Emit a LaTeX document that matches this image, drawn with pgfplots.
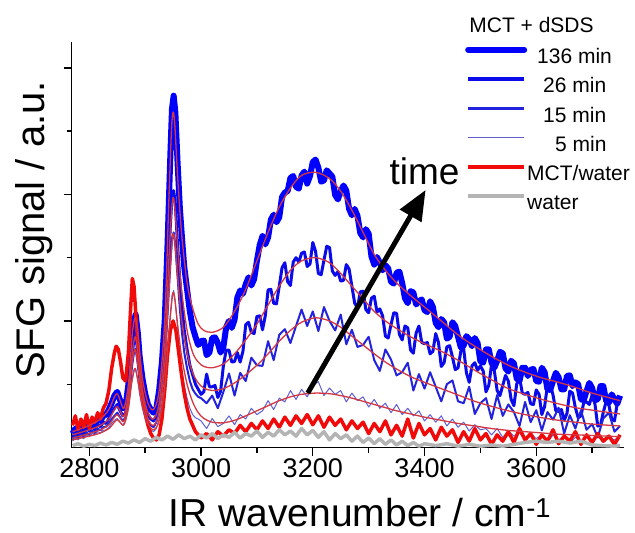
\documentclass[border=0pt]{standalone}
\usepackage{fontspec}
\setmainfont{Liberation Sans}
\usepackage{pgfplots}
\pgfplotsset{compat=1.18}
\usetikzlibrary{arrows.meta}
\definecolor{cA}{RGB}{0,0,255}
\definecolor{cB}{RGB}{10,10,235}
\definecolor{cC}{RGB}{35,35,222}
\definecolor{cD}{RGB}{95,95,210}
\definecolor{fitred}{RGB}{212,55,65}
\definecolor{mred}{RGB}{240,10,10}
\definecolor{wgray}{RGB}{180,180,180}
\begin{document}
\begin{tikzpicture}
\path[use as bounding box] (-71.7pt,-85.5pt) rectangle (563.3pt,447.5pt);
\begin{axis}[
  scale only axis, width=552pt, height=405pt,
  xmin=2768.5, xmax=3756.5, ymin=0, ymax=6.4,
  axis lines=left, axis line style={-, line width=1.6pt},
  clip=false,
  xtick={2800,3000,3200,3400,3600}, xticklabels={2800,3000,3200,3400,3600},
  minor xtick={2900,3100,3300,3500,3700},
  ytick={2,4,6}, minor ytick={1,3,5}, yticklabels={},
  tick align=outside, major tick length=8pt, minor tick length=5pt,
  every tick/.style={black, line width=1.4pt},
  xticklabel style={font=\fontsize{27}{30}\selectfont},
  xlabel={IR wavenumber / cm\textsuperscript{-1}},
  xlabel style={font=\fontsize{39}{42}\selectfont, at={(rel axis cs:0.522,-0.194)}, anchor=base},
  ylabel={SFG signal / a.u.},
  ylabel style={font=\fontsize{40}{44}\selectfont, at={(rel axis cs:-0.0484,0.537)}, anchor=base},
  legend image code/.code={\draw[#1] (0pt,7.5pt) -- (56pt,7.5pt);},
  legend style={at={(rel axis cs:0.7125,1.0)}, anchor=north west, draw=none, fill=none,
    font=\fontsize{21}{24}\selectfont, row sep=0pt, column sep=0pt, inner sep=0pt,
    nodes={inner sep=0pt, text height=21pt, text depth=8.2pt}},
  legend cell align=left,
  line join=round,
]
\addlegendimage{cA, line width=6pt, line cap=round}\addlegendentry{\hspace{10pt}136 min}
\addlegendimage{cB, line width=4pt}\addlegendentry{\hspace{16pt}26 min}
\addlegendimage{cC, line width=3pt}\addlegendentry{\hspace{16pt}15 min}
\addlegendimage{cD, line width=1.5pt}\addlegendentry{\hspace{28pt}5 min}
\addlegendimage{mred, line width=4pt}\addlegendentry{MCT/water}
\addlegendimage{wgray, line width=4.5pt}\addlegendentry{water}

% 136 min data
\addplot[cA, line width=6pt, forget plot] coordinates {
(2770,0.22)(2775,0.3)(2780,0.2)(2785,0.32)(2790,0.28)(2795,0.38)(2800,0.3)(2805,0.42)(2810,0.36)(2815,0.45)(2820,0.42)(2825,0.5)(2830,0.52)(2835,0.6)(2840,0.7)(2845,0.82)(2850,0.88)(2855,0.75)(2860,0.62)(2865,0.65)(2870,1.0)(2875,1.6)(2880,2.0)(2883,2.1)(2887,1.8)(2890,1.45)(2895,1.1)(2900,0.85)(2905,0.68)(2910,0.6)(2915,0.55)(2920,0.62)(2925,0.9)(2930,1.35)(2935,2.0)(2940,3.2)(2945,4.6)(2948,5.35)(2951,5.56)(2954,5.3)(2958,4.5)(2962,3.8)(2966,3.3)(2970,2.85)(2975,2.5)(2980,2.15)(2985,1.9)(2990,1.75)(2995,1.62)
(3000,1.68)(3005,1.69)(3010,1.46)(3015,1.5)(3020,1.73)(3025,1.74)(3030,1.65)(3035,1.5)(3040,1.59)(3045,1.9)(3050,2.0)(3055,1.89)(3060,2.02)(3065,2.37)(3070,2.48)(3075,2.43)(3080,2.58)(3085,2.69)(3090,2.56)(3095,2.66)(3100,2.95)(3105,3.2)(3110,3.34)(3115,3.21)(3120,3.32)(3125,3.6)(3130,3.68)(3135,3.56)(3140,3.64)(3145,3.96)(3150,4.03)(3155,4.05)(3160,4.26)(3165,4.29)(3170,4.12)(3175,4.09)(3180,4.3)(3185,4.36)(3190,4.17)(3195,4.29)(3200,4.51)(3205,4.55)(3210,4.42)(3215,4.2)(3220,4.22)(3225,4.38)(3230,4.33)(3235,4.28)(3240,3.99)(3245,3.92)(3250,4.05)(3255,4.14)(3260,4.06)(3265,3.77)(3270,3.67)(3275,3.77)(3280,3.66)(3285,3.39)(3290,3.32)(3295,3.45)(3300,3.38)(3305,3.02)(3310,2.89)(3315,3.01)(3320,2.92)(3325,2.8)(3330,2.88)(3335,2.83)(3340,2.62)(3345,2.59)(3350,2.76)(3355,2.78)(3360,2.6)(3365,2.36)(3370,2.28)(3375,2.47)(3380,2.45)(3385,2.26)(3390,2.31)(3395,2.34)(3400,2.17)(3405,2.14)(3410,2.31)(3415,2.22)(3420,1.97)(3425,1.9)(3430,2.03)(3435,1.98)(3440,1.72)(3445,1.75)(3450,1.98)(3455,1.92)(3460,1.75)(3465,1.58)(3470,1.61)(3475,1.76)(3480,1.71)(3485,1.6)(3490,1.73)(3495,1.65)(3500,1.36)(3505,1.34)(3510,1.55)(3515,1.55)(3520,1.34)(3525,1.26)(3530,1.37)(3535,1.51)(3540,1.49)(3545,1.25)(3550,1.2)(3555,1.37)(3560,1.33)(3565,1.09)(3570,1.05)(3575,1.26)(3580,1.26)(3585,1.13)(3590,1.23)(3595,1.24)(3600,1.05)(3605,1.04)(3610,1.26)(3615,1.19)(3620,0.92)(3625,0.91)(3630,1.05)(3635,1.18)(3640,1.11)(3645,0.92)(3650,0.92)(3655,1.13)(3660,1.14)(3665,0.97)(3670,1.03)(3675,1.0)(3680,0.76)(3685,0.75)(3690,0.89)(3695,1.02)(3700,0.94)(3705,0.75)(3710,0.76)(3715,0.97)(3720,0.97)(3725,0.74)(3730,0.71)(3735,0.84)(3740,0.76)(3745,0.69)(3750,0.82)};

% 26 min data
\addplot[cB, line width=3pt, forget plot] coordinates {
(2770,0.15)(2775,0.25)(2780,0.18)(2785,0.28)(2790,0.2)(2795,0.3)(2800,0.26)(2805,0.34)(2810,0.28)(2815,0.36)(2820,0.33)(2825,0.4)(2830,0.38)(2835,0.46)(2840,0.55)(2845,0.62)(2850,0.68)(2855,0.58)(2860,0.5)(2865,0.55)(2870,0.85)(2875,1.35)(2880,1.72)(2883,1.78)(2887,1.5)(2890,1.2)(2895,0.9)(2900,0.65)(2905,0.52)(2910,0.45)(2915,0.42)(2920,0.5)(2925,0.7)(2930,1.05)(2935,1.6)(2940,2.5)(2945,3.5)(2948,3.95)(2951,4.06)(2954,3.85)(2958,3.2)(2962,2.65)(2966,2.2)(2970,1.85)(2975,1.55)(2980,1.3)(2985,1.15)(2990,1.0)(2995,0.92)
(3000,0.84)(3005,0.88)(3010,1.16)(3015,0.96)(3020,0.96)(3025,0.98)(3030,0.79)(3035,0.89)(3040,1.29)(3045,1.54)(3050,1.54)(3055,1.35)(3060,1.36)(3065,1.5)(3070,1.35)(3075,1.52)(3080,1.94)(3085,1.98)(3090,1.82)(3095,1.8)(3100,2.07)(3105,2.08)(3110,1.86)(3115,2.08)(3120,2.49)(3125,2.5)(3130,2.28)(3135,2.27)(3140,2.55)(3145,2.84)(3150,2.92)(3155,2.62)(3160,2.56)(3165,2.93)(3170,3.0)(3175,2.93)(3180,3.07)(3185,3.09)(3190,2.86)(3195,2.9)(3200,3.24)(3205,3.1)(3210,2.75)(3215,2.73)(3220,2.96)(3225,3.18)(3230,3.16)(3235,2.79)(3240,2.72)(3245,2.78)(3250,2.63)(3255,2.64)(3260,2.89)(3265,2.82)(3270,2.55)(3275,2.28)(3280,2.21)(3285,2.46)(3290,2.47)(3295,2.18)(3300,2.13)(3305,2.36)(3310,2.39)(3315,2.14)(3320,2.19)(3325,2.08)(3330,1.76)(3335,1.73)(3340,1.94)(3345,2.13)(3350,2.12)(3355,1.79)(3360,1.7)(3365,1.92)(3370,1.89)(3375,1.54)(3380,1.49)(3385,1.81)(3390,1.92)(3395,1.66)(3400,1.64)(3405,1.66)(3410,1.48)(3415,1.52)(3420,1.8)(3425,1.66)(3430,1.28)(3435,1.34)(3440,1.59)(3445,1.61)(3450,1.43)(3455,1.23)(3460,1.26)(3465,1.52)(3470,1.57)(3475,1.18)(3480,1.03)(3485,1.29)(3490,1.34)(3495,1.22)(3500,1.29)(3505,1.21)(3510,0.88)(3515,0.98)(3520,1.31)(3525,1.21)(3530,0.9)(3535,0.82)(3540,0.98)(3545,1.14)(3550,1.05)(3555,0.76)(3560,0.66)(3565,1.0)(3570,1.11)(3575,0.86)(3580,0.84)(3585,0.87)(3590,0.69)(3595,0.68)(3600,0.91)(3605,0.84)(3610,0.52)(3615,0.65)(3620,0.98)(3625,1.0)(3630,0.83)(3635,0.58)(3640,0.57)(3645,0.6)(3650,0.43)(3655,0.54)(3660,0.89)(3665,0.86)(3670,0.63)(3675,0.47)(3680,0.5)(3685,0.71)(3690,0.72)(3695,0.68)(3700,0.83)(3705,0.69)(3710,0.34)(3715,0.35)(3720,0.56)(3725,0.72)(3730,0.67)(3735,0.45)(3740,0.42)(3745,0.7)(3750,0.77)};

% 15 min data
\addplot[cC, line width=2pt, forget plot] coordinates {
(2770,0.12)(2775,0.18)(2780,0.14)(2785,0.2)(2790,0.16)(2795,0.24)(2800,0.2)(2805,0.27)(2810,0.22)(2815,0.3)(2820,0.27)(2825,0.32)(2830,0.33)(2835,0.38)(2840,0.45)(2845,0.5)(2850,0.55)(2855,0.48)(2860,0.42)(2865,0.48)(2870,0.75)(2875,1.2)(2880,1.5)(2883,1.56)(2887,1.3)(2890,1.05)(2895,0.78)(2900,0.55)(2905,0.42)(2910,0.35)(2915,0.32)(2920,0.4)(2925,0.58)(2930,0.9)(2935,1.35)(2940,2.1)(2945,2.9)(2948,3.3)(2951,3.4)(2954,3.2)(2958,2.7)(2962,2.2)(2966,1.8)(2970,1.5)(2975,1.25)(2980,1.05)(2985,0.92)(2990,0.85)(2995,0.8)
(3000,0.78)(3010,0.7)(3020,0.82)(3030,0.62)(3040,0.88)(3050,1.17)(3060,0.82)(3070,1.18)(3080,1.05)(3090,1.42)(3100,1.3)(3110,1.29)(3120,1.68)(3130,1.38)(3140,1.78)(3150,1.87)(3160,1.65)(3170,1.92)(3180,2.18)(3190,1.92)(3200,2.15)(3210,1.84)(3220,2.22)(3230,2.0)(3240,1.85)(3250,2.1)(3260,1.63)(3270,1.86)(3280,1.59)(3290,1.62)(3300,1.75)(3310,1.38)(3320,1.21)(3330,1.55)(3340,1.39)(3350,1.14)(3360,1.19)(3370,1.34)(3380,0.9)(3390,1.16)(3400,0.93)(3410,1.19)(3420,0.96)(3430,0.73)(3440,1.0)(3450,1.06)(3460,0.73)(3470,0.7)(3480,0.96)(3490,0.53)(3500,0.7)(3510,0.78)(3520,0.45)(3530,0.83)(3540,0.5)(3550,0.68)(3560,0.56)(3570,0.34)(3580,0.72)(3590,0.4)(3600,0.59)(3610,0.27)(3620,0.56)(3630,0.44)(3640,0.63)(3650,0.22)(3660,0.51)(3670,0.3)(3680,0.59)(3690,0.28)(3700,0.37)(3710,0.16)(3720,0.46)(3730,0.55)(3740,0.25)(3750,0.34)};

% 5 min data
\addplot[cD, line width=1pt, forget plot] coordinates {
(2770,0.1)(2775,0.15)(2780,0.12)(2785,0.17)(2790,0.14)(2795,0.2)(2800,0.17)(2805,0.22)(2810,0.2)(2815,0.25)(2820,0.23)(2825,0.27)(2830,0.28)(2835,0.32)(2840,0.38)(2845,0.43)(2850,0.46)(2855,0.4)(2860,0.36)(2865,0.42)(2870,0.62)(2875,0.98)(2880,1.2)(2883,1.24)(2887,1.05)(2890,0.85)(2895,0.62)(2900,0.45)(2905,0.35)(2910,0.28)(2915,0.25)(2920,0.3)(2925,0.45)(2930,0.7)(2935,1.0)(2940,1.55)(2945,2.1)(2948,2.4)(2951,2.48)(2954,2.3)(2958,1.9)(2962,1.5)(2966,1.2)(2970,0.98)(2975,0.78)(2980,0.62)(2985,0.52)(2990,0.47)(2995,0.45)
(3000,0.42)(3010,0.3)(3020,0.46)(3030,0.33)(3040,0.38)(3050,0.5)(3060,0.36)(3070,0.52)(3080,0.45)(3090,0.62)(3100,0.52)(3110,0.58)(3120,0.74)(3130,0.6)(3140,0.78)(3150,0.72)(3160,0.9)(3170,0.76)(3180,0.92)(3190,0.8)(3200,0.98)(3210,1.04)(3220,0.82)(3230,0.94)(3240,0.84)(3250,0.9)(3260,0.72)(3270,0.86)(3280,0.74)(3290,0.8)(3300,0.64)(3310,0.76)(3320,0.62)(3330,0.7)(3340,0.55)(3350,0.68)(3360,0.52)(3370,0.62)(3380,0.5)(3390,0.58)(3400,0.42)(3410,0.52)(3420,0.4)(3430,0.5)(3440,0.34)(3450,0.45)(3460,0.32)(3470,0.4)(3480,0.26)(3490,0.36)(3500,0.28)(3510,0.3)(3520,0.2)(3530,0.3)(3540,0.16)(3550,0.26)(3560,0.18)(3570,0.24)(3580,0.1)(3590,0.22)(3600,0.14)(3610,0.2)(3620,0.08)(3630,0.2)(3640,0.12)(3650,0.18)(3660,0.07)(3670,0.16)(3680,0.1)(3690,0.18)(3700,0.1)(3710,0.2)(3720,0.08)(3730,0.16)(3740,0.12)(3750,0.18)};

% MCT/water
\addplot[mred, line width=3.5pt, forget plot] coordinates {
(2770,0.35)(2775,0.5)(2780,0.28)(2785,0.45)(2790,0.32)(2795,0.52)(2800,0.3)(2805,0.48)(2810,0.4)(2815,0.55)(2820,0.45)(2825,0.62)(2830,0.7)(2835,0.9)(2840,1.25)(2845,1.5)(2848,1.6)(2852,1.55)(2856,1.35)(2860,1.1)(2865,1.05)(2870,1.5)(2874,2.2)(2877,2.67)(2880,2.55)(2884,2.0)(2888,1.5)(2893,0.95)(2900,0.55)(2905,0.35)(2910,0.22)(2915,0.15)(2920,0.12)(2925,0.2)(2930,0.45)(2935,0.9)(2940,1.45)(2945,1.85)(2950,2.0)(2955,1.85)(2960,1.5)(2965,1.15)(2970,0.85)(2975,0.62)(2980,0.45)(2985,0.35)(2990,0.25)(2995,0.2)
(3000,0.15)(3010,0.22)(3020,0.12)(3030,0.25)(3040,0.18)(3050,0.28)(3060,0.22)(3070,0.35)(3080,0.25)(3090,0.38)(3100,0.28)(3110,0.42)(3120,0.3)(3130,0.45)(3140,0.32)(3150,0.48)(3160,0.35)(3170,0.5)(3180,0.38)(3190,0.52)(3200,0.36)(3210,0.5)(3220,0.32)(3230,0.48)(3240,0.35)(3250,0.45)(3260,0.28)(3270,0.42)(3280,0.3)(3290,0.4)(3300,0.22)(3310,0.38)(3320,0.25)(3330,0.42)(3340,0.2)(3350,0.35)(3360,0.18)(3370,0.45)(3380,0.15)(3390,0.38)(3400,0.2)(3410,0.3)(3420,0.12)(3430,0.32)(3440,0.18)(3450,0.28)(3460,0.08)(3470,0.25)(3480,0.1)(3490,0.3)(3500,0.12)(3510,0.22)(3520,0.05)(3530,0.2)(3540,0.1)(3550,0.25)(3560,0.08)(3570,0.3)(3580,0.12)(3590,0.22)(3600,0.05)(3610,0.2)(3620,0.1)(3630,0.28)(3640,0.06)(3650,0.18)(3660,0.1)(3670,0.25)(3680,0.05)(3690,0.2)(3700,0.08)(3710,0.22)(3720,0.1)(3730,0.18)(3740,0.05)(3750,0.2)};

% water
\addplot[wgray, line width=3.5pt, forget plot] coordinates {
(2770,0.03)(2780,0.06)(2790,0.02)(2800,0.05)(2810,0.03)(2820,0.07)(2830,0.04)(2840,0.08)(2850,0.05)(2860,0.1)(2870,0.07)(2880,0.12)(2890,0.08)(2900,0.14)(2910,0.1)(2920,0.16)(2930,0.12)(2940,0.18)(2950,0.13)(2960,0.2)(2970,0.14)(2980,0.18)(2990,0.12)(3000,0.2)(3010,0.15)(3020,0.22)(3030,0.14)(3040,0.2)(3050,0.16)(3060,0.24)(3070,0.15)(3080,0.22)(3090,0.18)(3100,0.26)(3110,0.16)(3120,0.24)(3130,0.18)(3140,0.28)(3150,0.2)(3160,0.26)(3170,0.18)(3180,0.3)(3190,0.2)(3200,0.27)(3210,0.16)(3220,0.25)(3230,0.12)(3240,0.22)(3250,0.14)(3260,0.2)(3270,0.1)(3280,0.18)(3290,0.08)(3300,0.15)(3310,0.06)(3320,0.14)(3330,0.05)(3340,0.12)(3350,0.04)(3360,0.1)(3370,0.03)(3380,0.08)(3390,0.02)(3400,0.06)(3420,0.03)(3440,0.06)(3460,0.02)(3480,0.05)(3500,0.02)(3520,0.04)(3540,0.02)(3560,0.05)(3580,0.08)(3600,0.1)(3620,0.08)(3640,0.1)(3660,0.07)(3680,0.1)(3700,0.04)(3720,0.03)(3740,0.02)(3750,0.03)};

% fits
\addplot[fitred, line width=1.3pt, smooth, forget plot] coordinates {
(2770,0.25)(2800,0.35)(2820,0.45)(2835,0.6)(2845,0.8)(2850,0.85)(2855,0.75)(2862,0.62)(2870,1.0)(2877,1.8)(2882,2.05)(2887,1.8)(2895,1.1)(2905,0.7)(2915,0.6)(2925,0.9)(2935,2.0)(2942,3.8)(2947,5.0)(2950,5.3)(2953,5.1)(2958,4.3)(2965,3.4)(2975,2.6)(2985,2.2)(2995,1.95)(3005,1.85)(3020,1.82)(3040,1.9)(3060,2.15)(3080,2.5)(3100,2.95)(3120,3.4)(3140,3.8)(3160,4.1)(3180,4.3)(3205,4.35)(3230,4.25)(3250,4.05)(3270,3.75)(3290,3.4)(3310,3.05)(3330,2.8)(3350,2.6)(3375,2.4)(3400,2.22)(3430,2.0)(3460,1.78)(3490,1.6)(3520,1.44)(3550,1.3)(3580,1.19)(3610,1.1)(3640,1.03)(3670,0.95)(3700,0.86)(3750,0.74)};
\addplot[fitred, line width=1.3pt, smooth, forget plot] coordinates {
(2770,0.2)(2800,0.28)(2820,0.35)(2835,0.45)(2845,0.6)(2850,0.65)(2855,0.58)(2862,0.5)(2870,0.85)(2877,1.5)(2882,1.75)(2887,1.5)(2895,0.9)(2905,0.55)(2915,0.45)(2925,0.7)(2935,1.6)(2942,2.9)(2947,3.7)(2950,3.95)(2953,3.8)(2958,3.2)(2965,2.5)(2975,1.85)(2985,1.5)(2995,1.35)(3005,1.28)(3020,1.26)(3040,1.32)(3060,1.48)(3080,1.7)(3100,1.95)(3120,2.25)(3140,2.55)(3160,2.8)(3180,2.95)(3205,3.0)(3230,2.92)(3250,2.75)(3270,2.55)(3290,2.35)(3310,2.15)(3330,2.0)(3350,1.88)(3375,1.75)(3400,1.64)(3430,1.52)(3460,1.38)(3490,1.22)(3520,1.07)(3550,0.93)(3580,0.84)(3610,0.76)(3640,0.69)(3670,0.63)(3700,0.59)(3750,0.53)};
\addplot[fitred, line width=1.3pt, smooth, forget plot] coordinates {
(2770,0.15)(2800,0.22)(2820,0.28)(2835,0.36)(2845,0.48)(2850,0.52)(2855,0.47)(2862,0.42)(2870,0.75)(2877,1.35)(2882,1.55)(2887,1.3)(2895,0.8)(2905,0.45)(2915,0.35)(2925,0.55)(2935,1.3)(2942,2.4)(2947,3.1)(2950,3.38)(2953,3.25)(2958,2.7)(2965,2.05)(2975,1.5)(2985,1.18)(2995,1.02)(3005,0.94)(3020,0.9)(3040,0.93)(3060,1.02)(3080,1.15)(3100,1.3)(3120,1.48)(3140,1.68)(3160,1.85)(3180,1.98)(3205,2.05)(3230,2.0)(3250,1.9)(3270,1.76)(3290,1.62)(3310,1.48)(3330,1.35)(3350,1.24)(3375,1.12)(3400,1.03)(3430,0.93)(3460,0.83)(3490,0.73)(3520,0.65)(3550,0.58)(3580,0.52)(3610,0.47)(3640,0.43)(3670,0.4)(3700,0.37)(3750,0.34)};
\addplot[fitred, line width=1.3pt, smooth, forget plot] coordinates {
(2770,0.12)(2800,0.18)(2820,0.23)(2835,0.3)(2845,0.4)(2850,0.44)(2855,0.4)(2862,0.36)(2870,0.62)(2877,1.1)(2882,1.25)(2887,1.05)(2895,0.65)(2905,0.38)(2915,0.28)(2925,0.42)(2935,0.95)(2942,1.75)(2947,2.25)(2950,2.45)(2953,2.35)(2958,1.95)(2965,1.45)(2975,1.0)(2985,0.72)(2995,0.55)(3005,0.46)(3020,0.4)(3040,0.39)(3060,0.43)(3080,0.5)(3100,0.58)(3120,0.66)(3140,0.74)(3160,0.8)(3180,0.84)(3205,0.86)(3230,0.85)(3250,0.82)(3270,0.78)(3290,0.73)(3310,0.68)(3330,0.63)(3350,0.58)(3375,0.53)(3400,0.48)(3430,0.43)(3460,0.38)(3490,0.34)(3520,0.3)(3550,0.27)(3580,0.25)(3610,0.23)(3640,0.21)(3670,0.2)(3700,0.19)(3750,0.17)};

\draw[line width=5pt, -{Triangle[length=30pt, width=24pt]}] (axis cs:3191,0.86) -- (axis cs:3402,4.07);
\node[anchor=base, font=\fontsize{37}{40}\selectfont] at (axis cs:3400,4.15) {time};
\node[anchor=base west, font=\fontsize{21}{24}\selectfont] at (rel axis cs:0.714,1.025) {MCT + dSDS};
\end{axis}
\end{tikzpicture}
\end{document}
